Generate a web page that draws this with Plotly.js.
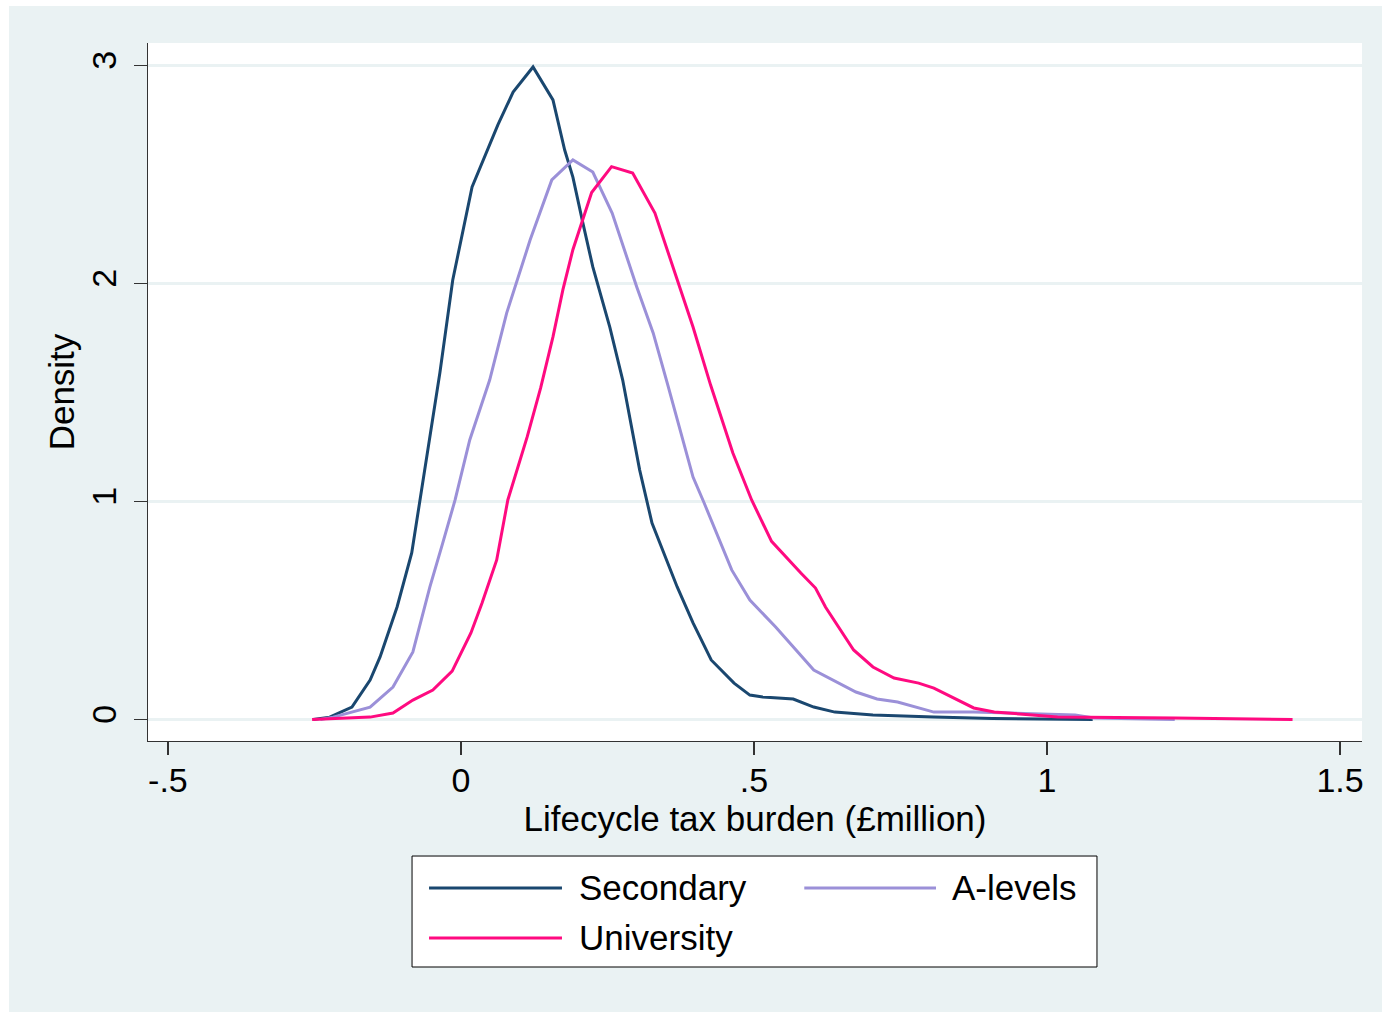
<!DOCTYPE html>
<html>
<head>
<meta charset="utf-8">
<script src="https://cdn.plot.ly/plotly-3.0.1.min.js"></script>
<style>
html,body{margin:0;padding:0;background:#ffffff;}
#chart{position:absolute;left:9px;top:6px;width:1373px;height:1006px;}
</style>
</head>
<body>
<div id="chart"></div>
<script>
// Series names and colours
const seriesNames = ["Secondary", "A-levels", "University"];
const seriesColors = ["#1a476f", "#9b90d8", "#ff0a80"];

// Secondary (x = lifecycle tax burden, y = density)
const secondaryX = [-0.252,-0.224,-0.186,-0.155,-0.138,-0.109,-0.084,-0.070,-0.036,-0.014,0.019,0.063,0.089,0.123,0.157,0.177,0.191,0.208,0.225,0.254,0.276,0.305,0.326,0.369,0.396,0.427,0.466,0.493,0.515,0.567,0.602,0.638,0.703,0.807,0.907,1.078];
const secondaryY = [0,0.011,0.057,0.181,0.287,0.516,0.764,1.007,1.589,2.016,2.443,2.727,2.878,2.993,2.842,2.612,2.488,2.278,2.076,1.800,1.557,1.144,0.901,0.608,0.443,0.273,0.167,0.112,0.103,0.094,0.057,0.034,0.021,0.011,0.005,0];

// A-levels
const alevelsX = [-0.240,-0.218,-0.155,-0.116,-0.082,-0.053,-0.031,-0.010,0.015,0.049,0.078,0.118,0.155,0.191,0.225,0.258,0.300,0.328,0.353,0.396,0.415,0.462,0.493,0.537,0.602,0.674,0.710,0.745,0.807,0.875,1.048,1.080,1.218];
const alevelsY = [0,0.011,0.057,0.149,0.310,0.608,0.810,1.007,1.282,1.557,1.864,2.199,2.475,2.567,2.511,2.323,1.984,1.773,1.534,1.112,0.993,0.686,0.548,0.424,0.227,0.126,0.094,0.080,0.034,0.034,0.021,0.007,0];

// University
const universityX = [-0.254,-0.186,-0.155,-0.116,-0.082,-0.048,-0.015,0.017,0.036,0.061,0.080,0.113,0.136,0.157,0.174,0.191,0.223,0.257,0.293,0.331,0.368,0.396,0.426,0.445,0.464,0.496,0.530,0.580,0.605,0.622,0.670,0.703,0.739,0.781,0.807,0.875,0.910,0.975,1.018,1.219,1.419];
const universityY = [0,0.007,0.011,0.030,0.089,0.135,0.222,0.397,0.534,0.732,1.007,1.296,1.521,1.755,1.972,2.155,2.417,2.536,2.507,2.323,2.030,1.800,1.534,1.373,1.222,1.007,0.817,0.672,0.603,0.516,0.319,0.241,0.190,0.167,0.144,0.053,0.034,0.021,0.011,0.007,0];

// Axis ticks
const xTickVals = [-0.5, 0, 0.5, 1, 1.5];
const xTickText = ["-.5", "0", ".5", "1", "1.5"];
const yTickVals = [0, 1, 2, 3];
const yTickText = ["0", "1", "2", "3"];
const xTitle = "Lifecycle tax burden (£million)";
const yTitle = "Density";

const allX = [secondaryX, alevelsX, universityX];
const allY = [secondaryY, alevelsY, universityY];

const FONT = "'Liberation Sans', Arial, Helvetica, sans-serif";
const BG = "#eaf2f3";

const traces = seriesNames.map((n, i) => ({
  type: "scatter",
  mode: "lines",
  name: n,
  x: allX[i],
  y: allY[i],
  line: {color: seriesColors[i], width: 3},
  showlegend: false,
  hoverinfo: "skip"
}));

// Manual legend (Stata style: long line samples, 2 columns)
const legendRows = [
  {lx0: 0.2315, lx1: 0.3410, tx: 0.3530, y: -0.2106},
  {lx0: 0.5406, lx1: 0.6491, tx: 0.6605, y: -0.2106},
  {lx0: 0.2315, lx1: 0.3410, tx: 0.3530, y: -0.2822}
];
const shapes = [{
  type: "rect", xref: "paper", yref: "paper",
  x0: 0.2175, x1: 0.7817, y0: -0.3238, y1: -0.1648,
  line: {color: "#000000", width: 1}, fillcolor: "#ffffff", layer: "below"
}];
const annotations = [];
seriesNames.forEach((n, i) => {
  const r = legendRows[i];
  shapes.push({type: "line", xref: "paper", yref: "paper",
    x0: r.lx0, x1: r.lx1, y0: r.y, y1: r.y,
    line: {color: seriesColors[i], width: 3}});
  annotations.push({xref: "paper", yref: "paper", x: r.tx, y: r.y,
    text: n, showarrow: false, xanchor: "left", yanchor: "middle",
    font: {family: FONT, size: 35, color: "#000000"}});
});

const layout = {
  width: 1373, height: 1006,
  paper_bgcolor: BG, plot_bgcolor: "#ffffff",
  margin: {l: 139, r: 20, t: 37, b: 271},
  font: {family: FONT, size: 34, color: "#000000"},
  showlegend: false,
  xaxis: {
    range: [-0.534, 1.5375], tickvals: xTickVals, ticktext: xTickText,
    showgrid: false, zeroline: false, showline: true, linecolor: "#333333", linewidth: 1.2,
    ticks: "outside", ticklen: 13, tickwidth: 1.2, tickcolor: "#333333",
    tickfont: {family: FONT, size: 34, color: "#000000"},
    ticklabelstandoff: -4,
    title: {text: xTitle, font: {family: FONT, size: 35, color: "#000000"}, standoff: 0},
    automargin: false
  },
  yaxis: {
    range: [-0.0986, 3.103], tickvals: yTickVals, ticktext: yTickText, tickangle: -90,
    showgrid: true, gridcolor: BG, gridwidth: 3,
    zeroline: false, showline: true, linecolor: "#333333", linewidth: 1.2,
    ticks: "outside", ticklen: 13, tickwidth: 1.2, tickcolor: "#333333",
    tickfont: {family: FONT, size: 34, color: "#000000"},
    ticklabelstandoff: 4,
    title: {text: yTitle, font: {family: FONT, size: 35, color: "#000000"}, standoff: 0},
    automargin: false
  },
  shapes: shapes,
  annotations: annotations
};

Plotly.newPlot("chart", traces, layout, {displayModeBar: false, staticPlot: true});
</script>
</body>
</html>
